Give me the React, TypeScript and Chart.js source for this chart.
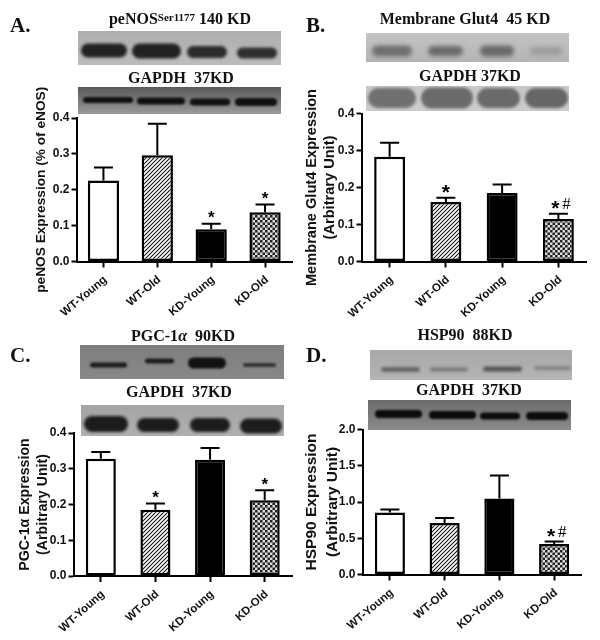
import React, { useEffect, useRef } from "react";
import { Chart, registerables } from "chart.js";

Chart.register(...registerables);

const categories = ["WT-Young", "WT-Old", "KD-Young", "KD-Old"];

const valuesA = [0.226, 0.296, 0.09, 0.137];
const errorTopsA = [0.262, 0.384, 0.105, 0.159];
const starsA = ["", "", "*", "*"];
const ticksMaxA = 0.4;

const valuesB = [0.283, 0.161, 0.185, 0.115];
const errorTopsB = [0.321, 0.172, 0.208, 0.129];
const starsB = ["", "*", "", "*#"];

const valuesC = [0.328, 0.185, 0.325, 0.212];
const errorTopsC = [0.347, 0.203, 0.358, 0.24];
const starsC = ["", "*", "", "*"];

const valuesD = [0.855, 0.71, 1.05, 0.42];
const errorTopsD = [0.895, 0.78, 1.365, 0.455];
const starsD = ["", "", "", "*#"];

type Band = [number, number, number, number, string];
type Blot = { x: number; y: number; w: number; h: number; top: string; bottom: string; bands: Band[]; blur: number };

const blotsA: Blot[] = [
  { x: 78, y: 31, w: 203, h: 34, top: "#aeaeae", bottom: "#bcbcbc", blur: 1.6, bands: [
    [81, 127, 50.5, 14, "#222"], [132, 181, 51, 15, "#222"], [187, 227, 52, 12, "#2a2a2a"], [237, 277, 53, 11, "#2e2e2e"] ] },
  { x: 78, y: 87, w: 203, h: 27, top: "#5a5a5a", bottom: "#9a9a9a", blur: 1.2, bands: [
    [83, 133, 100, 6, "#111"], [137, 185, 101, 7, "#111"], [190, 230, 102, 7, "#111"], [235, 277, 102, 8, "#111"] ] },
];
const blotsB: Blot[] = [
  { x: 366, y: 33, w: 203, h: 29, top: "#c4c4c4", bottom: "#b4b4b4", blur: 2, bands: [
    [372, 412, 51, 11, "#6f6f6f"], [428, 463, 51, 10, "#6a6a6a"], [480, 514, 51, 11, "#6a6a6a"], [530, 562, 51, 8, "#9c9c9c"] ] },
  { x: 366, y: 86, w: 203, h: 25, top: "#c8c8c8", bottom: "#cccccc", blur: 1.6, bands: [
    [368, 416, 98, 20, "#707070"], [421, 473, 98, 21, "#6a6a6a"], [477, 520, 98, 20, "#6a6a6a"], [525, 568, 98, 20, "#666"] ] },
];
const blotsC: Blot[] = [
  { x: 80, y: 345, w: 204, h: 34, top: "#7e7e7e", bottom: "#888", blur: 1.3, bands: [
    [90, 127, 365, 5, "#1c1c1c"], [145, 174, 361, 5, "#1c1c1c"], [188, 226, 363, 11, "#111"], [243, 276, 365, 4, "#333"] ] },
  { x: 81, y: 405, w: 203, h: 31, top: "#a4a4a4", bottom: "#b0b0b0", blur: 1.6, bands: [
    [84, 128, 424, 16, "#1c1c1c"], [137, 179, 425, 14, "#1c1c1c"], [190, 230, 425, 14, "#1c1c1c"], [240, 282, 426, 15, "#1c1c1c"] ] },
];
const blotsD: Blot[] = [
  { x: 370, y: 350, w: 202, h: 30, top: "#a8a8a8", bottom: "#b4b4b4", blur: 1.6, bands: [
    [381, 420, 369.5, 5, "#666"], [430, 468, 369.5, 4, "#777"], [483, 522, 369, 5, "#555"], [534, 571, 368, 3, "#777"] ] },
  { x: 368, y: 400, w: 203, h: 30, top: "#6c6c6c", bottom: "#8a8a8a", blur: 1.2, bands: [
    [375, 422, 414, 8, "#0c0c0c"], [429, 476, 415, 8, "#0c0c0c"], [480, 520, 416, 7, "#0c0c0c"], [526, 568, 416, 8, "#0c0c0c"] ] },
];

type Panel = {
  origin: [number, number];
  size: [number, number];
  plot: [number, number, number, number];
  max: number;
  step: number;
  values: number[];
  tops: number[];
  stars: string[];
  title: string[];
  titleSize: number;
  titleLine: number;
  titleLeft: number;
  barPct: number;
  starSize: number;
  rotation: number;
  blots: Blot[];
};

const panels: Panel[] = [
  { origin: [0, 0], size: [300, 320], plot: [76.5, 118, 292, 261.5], max: ticksMaxA, step: 0.1, values: valuesA, tops: errorTopsA, stars: starsA,
    title: ["peNOS Expression (% of eNOS)"], titleSize: 13.7, titleLine: 17, titleLeft: 33, barPct: 0.58, starSize: 17, rotation: 40, blots: blotsA },
  { origin: [300, 0], size: [300, 320], plot: [361.5, 113.5, 586.5, 261.5], max: 0.4, step: 0.1, values: valuesB, tops: errorTopsB, stars: starsB,
    title: ["Membrane Glut4 Expression", "(Arbitrary Unit)"], titleSize: 14.6, titleLine: 18, titleLeft: 303, barPct: 0.55, starSize: 21, rotation: 42, blots: blotsB },
  { origin: [0, 320], size: [300, 320], plot: [73.5, 433, 292, 576], max: 0.4, step: 0.1, values: valuesC, tops: errorTopsC, stars: starsC,
    title: ["PGC-1α Expression", "(Arbitrary Unit)"], titleSize: 14.2, titleLine: 18, titleLeft: 16, barPct: 0.55, starSize: 17, rotation: 42, blots: blotsC },
  { origin: [300, 320], size: [300, 320], plot: [362.5, 429.5, 581.5, 574.5], max: 2, step: 0.5, values: valuesD, tops: errorTopsD, stars: starsD,
    title: ["HSP90 Expression", "(Arbitrary Unit)"], titleSize: 15.5, titleLine: 21, titleLeft: 301, barPct: 0.55, starSize: 21, rotation: 40, blots: blotsD },
];

const serif = '"Liberation Serif", serif';
const letters = [
  { t: "A.", x: 10, y: 15 },
  { t: "B.", x: 306, y: 15 },
  { t: "C.", x: 10, y: 345 },
  { t: "D.", x: 306, y: 345 },
];
const headers: { node: React.ReactNode; x: number; y: number; size: number }[] = [
  { node: <>peNOS<sup style={{ fontSize: 11, verticalAlign: 3, lineHeight: 0 }}>Ser1177</sup> 140 KD</>, x: 180, y: 19, size: 16 },
  { node: "GAPDH  37KD", x: 181, y: 78, size: 16 },
  { node: "Membrane Glut4  45 KD", x: 465, y: 19, size: 16 },
  { node: "GAPDH 37KD", x: 470, y: 76, size: 16 },
  { node: <>PGC-1<i>α</i>  90KD</>, x: 183, y: 336, size: 16 },
  { node: "GAPDH  37KD", x: 179, y: 392, size: 16 },
  { node: "HSP90  88KD", x: 465, y: 335, size: 16 },
  { node: "GAPDH  37KD", x: 469, y: 390, size: 16 },
];

function makeHatch(): CanvasPattern {
  const c = document.createElement("canvas");
  c.width = 4;
  c.height = 4;
  const g = c.getContext("2d")!;
  g.fillStyle = "#fff";
  g.fillRect(0, 0, 4, 4);
  g.strokeStyle = "#111";
  g.lineWidth = 1.05;
  g.beginPath();
  g.moveTo(-1, 1); g.lineTo(1, -1);
  g.moveTo(0, 4); g.lineTo(4, 0);
  g.moveTo(3, 5); g.lineTo(5, 3);
  g.stroke();
  return g.createPattern(c, "repeat")!;
}

function makeChecker(): CanvasPattern {
  const c = document.createElement("canvas");
  c.width = 5;
  c.height = 5;
  const g = c.getContext("2d")!;
  g.fillStyle = "#ddd";
  g.fillRect(0, 0, 5, 5);
  g.fillStyle = "#222";
  g.fillRect(0, 0, 2.5, 2.5);
  g.fillRect(2.5, 2.5, 2.5, 2.5);
  return g.createPattern(c, "repeat")!;
}

function PanelChart({ panel }: { panel: Panel }) {
  const ref = useRef<HTMLCanvasElement>(null);
  useEffect(() => {
    const [ox, oy] = panel.origin;
    const [cw, ch] = panel.size;
    const [pl, pt, pr, pb] = panel.plot;
    const font = { family: '"Liberation Sans", sans-serif', weight: "bold" as const, size: 12 };
    const titleLeft = panel.titleLeft - ox;
    const plugin = {
      id: "extras",
      beforeDraw(chart: Chart) {
        const ctx = chart.ctx;
        for (const b of panel.blots) {
          ctx.save();
          ctx.translate(-ox, -oy);
          ctx.beginPath();
          ctx.rect(b.x, b.y, b.w, b.h);
          ctx.clip();
          const grad = ctx.createLinearGradient(0, b.y, 0, b.y + b.h);
          grad.addColorStop(0, b.top);
          grad.addColorStop(1, b.bottom);
          ctx.fillStyle = grad;
          ctx.fillRect(b.x, b.y, b.w, b.h);
          ctx.filter = `blur(${b.blur}px)`;
          for (const [x0, x1, yc, h, col] of b.bands) {
            ctx.fillStyle = col;
            ctx.beginPath();
            ctx.roundRect(x0, yc - h / 2, x1 - x0, h, h / 2);
            ctx.fill();
          }
          ctx.restore();
        }
      },
      afterDatasetsDraw(chart: Chart) {
        const ctx = chart.ctx;
        const xs = chart.scales.x;
        const ys = chart.scales.y;
        ctx.save();
        ctx.strokeStyle = "#000";
        ctx.fillStyle = "#000";
        ctx.lineWidth = 2;
        panel.values.forEach((v, i) => {
          const x = xs.getPixelForValue(i);
          const y0 = ys.getPixelForValue(v);
          const y1 = ys.getPixelForValue(panel.tops[i]);
          ctx.beginPath();
          ctx.moveTo(x, y0);
          ctx.lineTo(x, y1);
          ctx.moveTo(x - 9.5, y1);
          ctx.lineTo(x + 9.5, y1);
          ctx.stroke();
          const s = panel.stars[i];
          if (s) {
            ctx.textAlign = "center";
            ctx.textBaseline = "alphabetic";
            const hasHash = s.includes("#");
            const centre = y1 - 10;
            ctx.font = `bold ${panel.starSize}px "Liberation Sans", sans-serif`;
            ctx.fillText("*", hasHash ? x - 3 : x, centre + panel.starSize * 0.55);
            if (hasHash) {
              ctx.font = `17px "Liberation Serif", serif`;
              ctx.fillText("#", x + 8, centre + 5.5);
            }
          }
        });
        ctx.restore();
      },
    };
    const hatch = makeHatch();
    const checker = makeChecker();
    const chart = new Chart(ref.current!, {
      type: "bar",
      data: {
        labels: categories,
        datasets: [
          {
            data: panel.values,
            backgroundColor: ["#fff", hatch, "#000", checker],
            borderColor: "#000",
            borderWidth: 2.5,
            borderSkipped: false,
            barPercentage: panel.barPct,
            categoryPercentage: 1,
          },
        ],
      },
      plugins: [plugin],
      options: {
        responsive: false,
        animation: false,
        layout: {
          padding: {
            left: titleLeft,
            top: pt - oy,
            right: ox + cw - pr,
            bottom: 0,
          },
        },
        plugins: { legend: { display: false }, tooltip: { enabled: false }, title: { display: false } },
        scales: {
          x: {
            grid: { offset: false, drawOnChartArea: false, drawTicks: true, tickLength: 6, tickWidth: 2, tickColor: "#000" },
            border: { color: "#000", width: 2 },
            ticks: { color: "#111", font: { ...font, size: 11.5, weight: "bold" }, minRotation: panel.rotation, maxRotation: panel.rotation, autoSkip: false, padding: 5.5, labelOffset: 2 },
            afterFit(scale: any) {
              scale.height = oy + ch - pb;
              scale.paddingLeft = 0;
              scale.paddingRight = 0;
            },
          },
          y: {
            min: 0,
            max: panel.max,
            grid: { drawOnChartArea: false, drawTicks: true, tickLength: 5, tickWidth: 2, tickColor: "#000" },
            border: { color: "#000", width: 2 },
            ticks: { color: "#111", font, stepSize: panel.step, padding: 2, callback: (v: any) => Number(v).toFixed(1) },
            title: {
              display: true,
              text: panel.title,
              color: "#111",
              padding: 0,
              font: { family: '"Liberation Sans", sans-serif', weight: "bold", size: panel.titleSize, lineHeight: `${panel.titleLine}px` },
            },
            afterFit(scale: any) {
              scale.width = pl - ox - titleLeft;
              scale.paddingTop = 0;
              scale.paddingBottom = 0;
            },
          },
        },
      } as any,
    });
    return () => chart.destroy();
  }, [panel]);
  return (
    <canvas
      ref={ref}
      width={panel.size[0]}
      height={panel.size[1]}
      style={{ position: "absolute", left: panel.origin[0], top: panel.origin[1], width: panel.size[0], height: panel.size[1] }}
    />
  );
}

export default function App() {
  return (
    <div style={{ position: "fixed", left: 0, top: 0, width: 600, height: 640, background: "#fff", overflow: "hidden" }}>
      {panels.map((p, i) => (
        <PanelChart key={i} panel={p} />
      ))}
      {letters.map((l) => (
        <div key={l.t} style={{ position: "absolute", left: l.x, top: l.y, font: `bold 21px/21px ${serif}`, color: "#111" }}>
          {l.t}
        </div>
      ))}
      {headers.map((h, i) => (
        <div
          key={i}
          style={{
            position: "absolute",
            left: h.x,
            top: h.y,
            transform: "translate(-50%, -50%)",
            font: `bold ${h.size}px/1 ${serif}`,
            color: "#111",
            whiteSpace: "pre",
          }}
        >
          {h.node}
        </div>
      ))}
    </div>
  );
}
